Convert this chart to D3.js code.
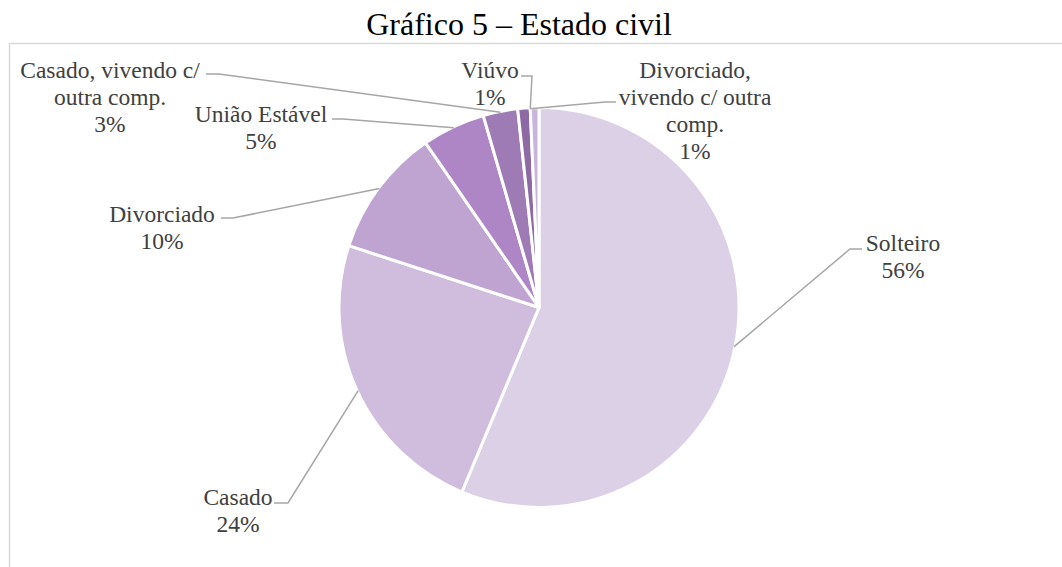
<!DOCTYPE html>
<html lang="pt">
<head>
<meta charset="utf-8">
<script src="https://cdn.jsdelivr.net/npm/d3@7"></script>
<style>
  html, body { margin: 0; padding: 0; background: #fff; }
  svg { display: block; }
  text { font-family: "Liberation Serif", "Times New Roman", serif; }
</style>
</head>
<body>
<svg id="chart" width="1062" height="567"></svg>
<script>
// Estado civil dos respondentes (% do total)
const categories = [
  "Solteiro",
  "Casado",
  "Divorciado",
  "União Estável",
  "Casado, vivendo c/ outra comp.",
  "Viúvo",
  "Divorciado, vivendo c/ outra comp."
];
const shares = [56.3, 23.7, 10.4, 5.1, 2.8, 1.0, 0.7];
const labelLines = [
  ["Solteiro"],
  ["Casado"],
  ["Divorciado"],
  ["União Estável"],
  ["Casado, vivendo c/", "outra comp."],
  ["Viúvo"],
  ["Divorciado,", "vivendo c/ outra", "comp."]
];
const sliceColors = ["#dcd0e6", "#d0bcdd", "#bfa4d1", "#ae86c6", "#9f7bb6", "#8d6aa4", "#c9b4dc"];
const title = "Gráfico 5 – Estado civil";

const cx = 539, cy = 307.5, R = 200;
const labelSize = 23.5, lineGap = 27;

// label placement: text centre, first line centre, leader tail/elbow, point along slice arc
const layout = [
  { x: 903, y: 243, tail: [862, 249], elbow: [850, 249], at: 0.5 },
  { x: 238, y: 497, tail: [274, 503], elbow: [288, 503], at: 0.5 },
  { x: 162, y: 214, tail: [221, 218], elbow: [233, 218], at: 0.5 },
  { x: 261, y: 114, tail: [332, 119], elbow: [343, 119], at: 0.5 },
  { x: 110, y: 70,  tail: [206, 74],  elbow: [219, 74],  at: 0.5 },
  { x: 490, y: 70,  tail: [521, 76],  elbow: [532, 76],  at: 1.0 },
  { x: 695, y: 70,  tail: [616, 102], elbow: [605, 102], at: 0.0 }
];

const svg = d3.select("#chart");

// chart area frame
svg.append("rect")
  .attr("x", 9.5).attr("y", 43.5)
  .attr("width", 1200).attr("height", 700)
  .attr("fill", "none")
  .attr("stroke", "#d9d9d9")
  .attr("stroke-width", 1.5);

svg.append("text")
  .attr("x", 519).attr("y", 35)
  .attr("text-anchor", "middle")
  .attr("font-size", 32)
  .attr("fill", "#000")
  .text(title);

const data = categories.map((c, i) => ({ name: c, value: shares[i], i }));
const total = d3.sum(shares);

const pie = d3.pie().sort(null).value(d => d.value).startAngle(0).endAngle(2 * Math.PI);
const arcs = pie(data);
const arc = d3.arc().innerRadius(0).outerRadius(R);

const g = svg.append("g").attr("transform", `translate(${cx},${cy})`);

g.selectAll("path.slice")
  .data(arcs)
  .join("path")
  .attr("class", "slice")
  .attr("d", arc)
  .attr("fill", d => sliceColors[d.data.i])
  .attr("stroke", "#fff")
  .attr("stroke-width", 3)
  .attr("stroke-linejoin", "round");

// leader lines from the slice edge to each label
const line = d3.line();
svg.selectAll("path.leader")
  .data(arcs)
  .join("path")
  .attr("class", "leader")
  .attr("d", d => {
    const L = layout[d.data.i];
    const a = d.startAngle + (d.endAngle - d.startAngle) * L.at;
    const p = [cx + (R - 1) * Math.sin(a), cy - (R - 1) * Math.cos(a)];
    return line([p, L.elbow, L.tail]);
  })
  .attr("fill", "none")
  .attr("stroke", "#a6a6a6")
  .attr("stroke-width", 1.5);

// data labels: category name and rounded percentage
const labels = svg.selectAll("text.lbl")
  .data(arcs)
  .join("text")
  .attr("class", "lbl")
  .attr("text-anchor", "middle")
  .attr("font-size", labelSize)
  .attr("fill", "#404040");

labels.each(function(d) {
  const L = layout[d.data.i];
  const lines = labelLines[d.data.i].concat([Math.round(d.data.value / total * 100) + "%"]);
  d3.select(this).selectAll("tspan")
    .data(lines)
    .join("tspan")
    .attr("x", L.x)
    .attr("y", (t, k) => L.y + k * lineGap + 8)
    .text(t => t);
});
</script>
</body>
</html>
